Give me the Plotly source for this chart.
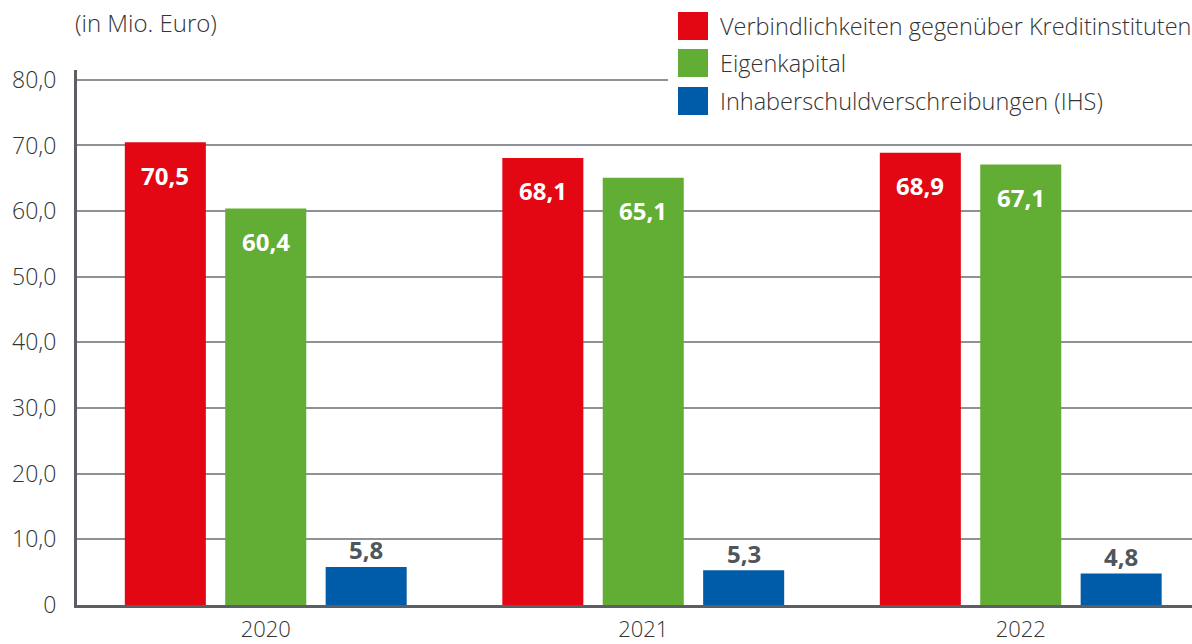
import plotly.graph_objects as go

years = ["2020", "2021", "2022"]
series_names = [
    "Verbindlichkeiten gegenüber Kreditinstituten",
    "Eigenkapital",
    "Inhaberschuldverschreibungen (IHS)",
]
verbindlichkeiten = [70.5, 68.1, 68.9]
eigenkapital = [60.4, 65.1, 67.1]
ihs = [5.8, 5.3, 4.8]
colors = ["#E30613", "#62AD33", "#005CA9"]
label_colors = ["#FFFFFF", "#FFFFFF", "#4F555C"]
tick_vals = [0, 10, 20, 30, 40, 50, 60, 70, 80]
tick_text = ["0", "10,0", "20,0", "30,0", "40,0", "50,0", "60,0", "70,0", "80,0"]
subtitle = "(in Mio. Euro)"

W, H = 1192, 644
L, R, T, B = 77, 0, 70, 39
PW, PH = W - L - R, H - T - B

BARGAP = 0.202
GROUPGAP = 0.193
slot = (1 - BARGAP) / 3

fig = go.Figure()
all_series = [verbindlichkeiten, eigenkapital, ihs]
for name, vals, col in zip(series_names, all_series, colors):
    fig.add_trace(go.Bar(x=years, y=vals, name=name, marker_color=col,
                         marker_line_width=0, showlegend=False, hoverinfo="skip"))

def light(size):
    return dict(family="Open Sans", size=size, color="#333333", weight=300)

annotations = []
for k, vals in enumerate(all_series):
    for i, v in enumerate(vals):
        txt = f"{v:.1f}".replace(".", ",")
        inside = k < 2
        annotations.append(dict(
            x=i + (k - 1) * slot, y=v, xref="x", yref="y",
            text=f"<b>{txt}</b>", showarrow=False,
            yanchor="middle", yshift=-33 if inside else 17,
            font=dict(family="Open Sans", size=24, color=label_colors[k]),
        ))

# subtitle
annotations.append(dict(
    x=0, y=1, xref="paper", yref="paper", xanchor="left", yanchor="middle",
    xshift=-4, yshift=T - 22, text=subtitle, showarrow=False, font=light(24),
))

# manual legend
def px_to_paper_x(px):
    return (px - L) / PW

def px_to_paper_y(py):
    return (H - B - py) / PH

shapes = [dict(type="rect", xref="paper", yref="paper", layer="above",
               x0=px_to_paper_x(668), x1=1.0, y0=px_to_paper_y(118), y1=px_to_paper_y(5),
               fillcolor="white", line_width=0)]
legend_y = [26, 63, 101]
for name, col, cy in zip(series_names, colors, legend_y):
    shapes.append(dict(type="rect", xref="paper", yref="paper", layer="above",
                       x0=px_to_paper_x(678), x1=px_to_paper_x(708),
                       y0=px_to_paper_y(cy + 14), y1=px_to_paper_y(cy - 14),
                       fillcolor=col, line_width=0))
    annotations.append(dict(x=px_to_paper_x(718), y=px_to_paper_y(cy), xref="paper", yref="paper",
                            xanchor="left", yanchor="middle", text=name, showarrow=False,
                            font=light(23.5)))

fig.update_layout(
    width=W, height=H,
    margin=dict(l=L, r=R, t=T, b=B, pad=0, autoexpand=False),
    paper_bgcolor="white", plot_bgcolor="white",
    barmode="group", bargap=BARGAP, bargroupgap=GROUPGAP,
    annotations=annotations, shapes=shapes,
    showlegend=False,
)
fig.update_xaxes(type="category", range=[-0.5, -0.5 + PW / 377.5], automargin=False,
                 showline=True, linecolor="#5B5F64", linewidth=3,
                 showgrid=False, ticks="", tickfont=light(22),
                 ticklabelstandoff=3)
fig.update_yaxes(range=[0, 81.5], tickvals=tick_vals, ticktext=tick_text, automargin=False,
                 showline=True, linecolor="#5B5F64", linewidth=3,
                 showgrid=True, gridcolor="#8E9195", gridwidth=1.5,
                 zeroline=False, ticks="", tickfont=light(23),
                 ticklabelstandoff=13)

fig.write_html("out.html", config={"displayModeBar": False},
               post_script="document.body.style.margin='0px';document.body.style.overflow='hidden';")
